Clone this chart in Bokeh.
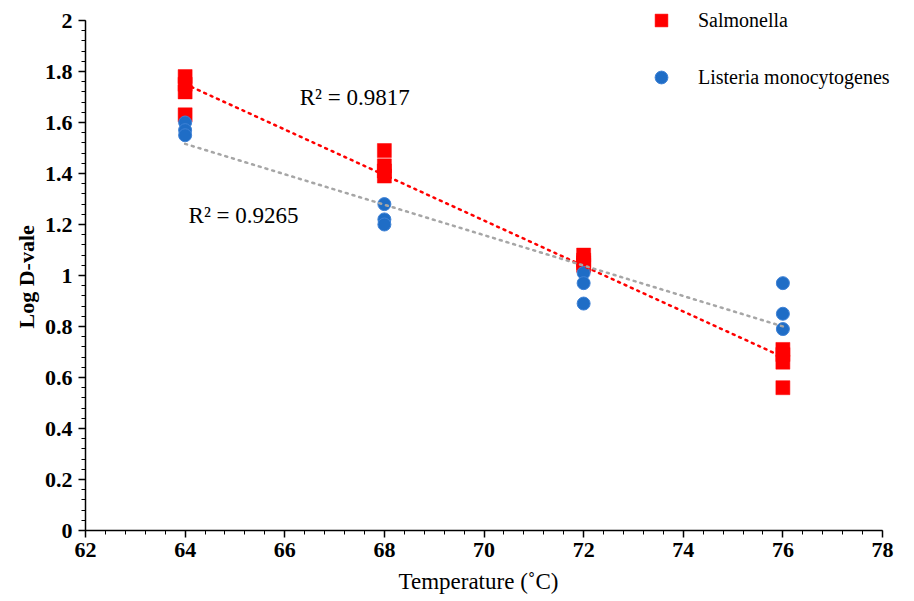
import numpy as np
from bokeh.plotting import figure
from bokeh.models import (FixedTicker, CustomJSTickFormatter, Legend, LegendItem,
                          Label, Range1d, ColumnDataSource, Title)
from bokeh.embed import file_html
from bokeh.resources import INLINE

# Log D-values measured at each holding temperature
sal_temp = [64, 64, 64, 64, 68, 68, 68, 68, 72, 72, 72, 72, 76, 76, 76, 76]
sal_logd = [1.78, 1.75, 1.72, 1.63, 1.49, 1.43, 1.41, 1.39,
            1.08, 1.06, 1.05, 1.04, 0.71, 0.69, 0.66, 0.56]

lis_temp = [64, 64, 64, 68, 68, 68, 72, 72, 72, 76, 76, 76]
lis_logd = [1.60, 1.57, 1.55, 1.28, 1.22, 1.20, 1.01, 0.97, 0.89, 0.97, 0.85, 0.79]

r2_labels = ["R\u00b2 = 0.9817", "R\u00b2 = 0.9265"]
x_ticks = [62, 64, 66, 68, 70, 72, 74, 76, 78]
y_ticks = [0, 0.2, 0.4, 0.6, 0.8, 1.0, 1.2, 1.4, 1.6, 1.8, 2.0]
x_title = "Temperature (\u02daC)"
y_title = "Log D-vale"

SERIF = "Liberation Serif"
RED = "#FF0000"
BLUE = "#1F6DC6"
GREY = "#A6A6A6"

# headroom above 2 and to the right of 78 so the legend is not clipped;
# the axis lines themselves stop at the real limits via bounds
PX_PER_X = 797 / 16.0
PX_PER_Y = 510 / 2.0
X_END = 78 + 32 / PX_PER_X
Y_TOP = 2.0 + 20 / PX_PER_Y

p = figure(width=914, height=601, output_backend="svg", toolbar_location=None,
           x_range=Range1d(62, X_END), y_range=Range1d(0, Y_TOP),
           min_border_left=85, min_border_right=0, min_border_top=0,
           min_border_bottom=71)
p.outline_line_color = None
p.xgrid.visible = False
p.ygrid.visible = False
p.background_fill_color = "white"
p.border_fill_color = "white"

# axes
p.xaxis.ticker = FixedTicker(ticks=x_ticks,
                             minor_ticks=list(np.round(np.arange(62, 78.01, 0.4), 2)))
p.yaxis.ticker = FixedTicker(ticks=y_ticks,
                             minor_ticks=list(np.round(np.arange(0, 2.001, 0.04), 3)))
p.xaxis.bounds = (62, 78)
p.yaxis.bounds = (0, 2)
p.yaxis.formatter = CustomJSTickFormatter(code="return String(Number(tick.toFixed(2)));")
for ax in (p.xaxis[0], p.yaxis[0]):
    ax.axis_line_color = "black"
    ax.axis_line_width = 1.5
    ax.major_tick_line_color = "black"
    ax.major_tick_line_width = 1.5
    ax.minor_tick_line_color = "black"
    ax.minor_tick_line_width = 1
    ax.major_tick_in = 0
    ax.major_tick_out = 7
    ax.minor_tick_in = 0
    ax.minor_tick_out = 4
    ax.major_label_text_font = SERIF
    ax.major_label_text_font_style = "bold"
    ax.major_label_text_font_size = "22px"
    ax.major_label_text_color = "black"
p.xaxis.major_label_standoff = 5
p.yaxis.major_label_standoff = 6

# axis titles, placed along the 62-78 / 0-2 spans rather than the padded frame
p.add_layout(Title(text=x_title, align="left", offset=313, text_font=SERIF,
                   text_font_size="23px", text_font_style="normal",
                   text_color="black", standoff=15), "below")
p.add_layout(Title(text=y_title, align="left", offset=202, text_font=SERIF,
                   text_font_size="22px", text_font_style="bold",
                   text_color="black", standoff=6), "left")

# scatter points
sal_src = ColumnDataSource(dict(x=sal_temp, y=sal_logd))
lis_src = ColumnDataSource(dict(x=lis_temp, y=lis_logd))
r_sal = p.scatter("x", "y", source=sal_src, marker="square", size=14,
                  fill_color=RED, line_color=RED, line_width=0.5)
r_lis = p.scatter("x", "y", source=lis_src, marker="circle", size=13,
                  fill_color=BLUE, line_color="#3F82D6", line_width=1)

# linear trendlines over the measured temperature span
def trend(xs, ys):
    k, b = np.polyfit(xs, ys, 1)
    xx = [min(xs), max(xs)]
    return xx, [k * v + b for v in xx]

tx, ty = trend(sal_temp, sal_logd)
p.line(tx, ty, line_color=RED, line_width=2.5, line_dash="2 5", line_cap="round")
gx, gy = trend(lis_temp, lis_logd)
p.line(gx, gy, line_color=GREY, line_width=2.5, line_dash="2 5", line_cap="round")

# R² annotations
p.add_layout(Label(x=66.3, y=1.70, text=r2_labels[0], text_font=SERIF,
                   text_font_size="23px", text_color="black", text_baseline="middle"))
p.add_layout(Label(x=64.07, y=1.235, text=r2_labels[1], text_font=SERIF,
                   text_font_size="23px", text_color="black", text_baseline="middle"))

legend = Legend(items=[LegendItem(label="Salmonella", renderers=[r_sal]),
                       LegendItem(label="Listeria monocytogenes", renderers=[r_lis])],
                location=(560, 437), orientation="vertical",
                glyph_width=32, glyph_height=32, label_standoff=21, spacing=25,
                padding=0, margin=0, border_line_color=None,
                background_fill_alpha=0,
                label_text_font=SERIF, label_text_font_size="20px",
                label_text_color="black", label_text_baseline="middle")
p.add_layout(legend)

open("out.html", "w").write(file_html(p, INLINE))
